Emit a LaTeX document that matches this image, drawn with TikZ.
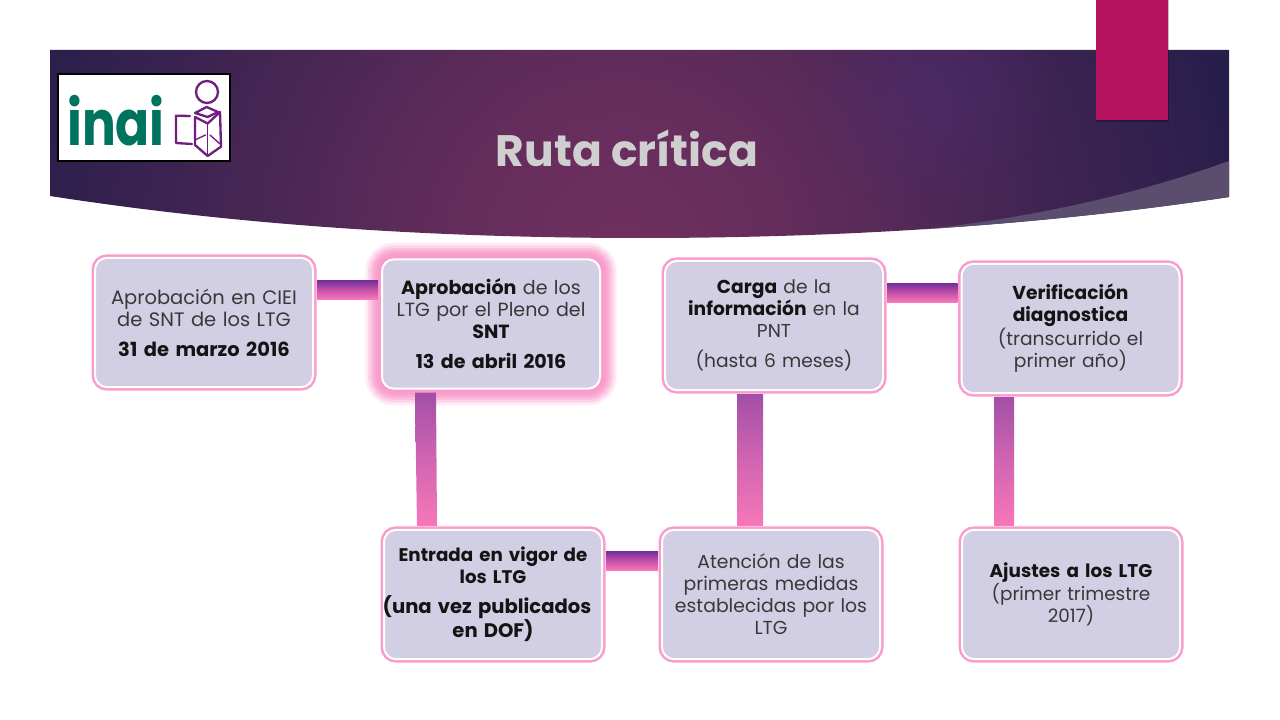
\documentclass[tikz,border=0pt]{standalone}
\usepackage{fontspec}
\setmainfont{Poppins}
\usetikzlibrary{calc,fadings}
\definecolor{boxlilac}{HTML}{D2CEE3}
\definecolor{boxpink}{HTML}{F99CCB}
\definecolor{barpurple}{HTML}{A34FA8}
\definecolor{barpink}{HTML}{F777B8}
\definecolor{bardark}{HTML}{6F2E9B}
\definecolor{barmid}{HTML}{C450A8}
\definecolor{headdark}{HTML}{241D4A}
\definecolor{headmid}{HTML}{70305F}
\definecolor{headspot}{HTML}{4F2E78}
\definecolor{swooshgray}{HTML}{5A4D6E}
\definecolor{logogreen}{HTML}{00735F}
\definecolor{logopurple}{HTML}{6F1F7F}
\pgfdeclareradialshading{headshade}{\pgfpoint{0bp}{0bp}}{color(0bp)=(headmid); color(6bp)=(headmid!85!headdark); color(14bp)=(headmid!48!headdark); color(25bp)=(headdark); color(100bp)=(headdark)}
\tikzfading[name=softspot,inner color=transparent!0,outer color=transparent!100]
\newcommand{\boxfont}[1]{\fontsize{#1}{16.5}\selectfont}
\tikzset{
    stepbox/.style={rectangle,rounded corners=9pt,fill=boxlilac,draw=white,line width=1.5pt,
        minimum width=163.5pt,minimum height=97pt,inner sep=0pt,text width=160pt,align=center,
        font=\boxfont{14},text=black!78,
        preaction={draw=boxpink,line width=5.25pt}},
    glowbox/.style={stepbox,
        preaction={draw=boxpink,opacity=.2,line width=25pt},
        preaction={draw=boxpink,opacity=.3,line width=21pt},
        preaction={draw=boxpink,opacity=.4,line width=17pt},
        preaction={draw=boxpink,opacity=.6,line width=13pt},
        preaction={draw=boxpink,opacity=.8,line width=9pt}},
    vbar/.style={top color=barpurple,bottom color=barpink,middle color=barpurple!45!barpink},
    hbar/.style={top color=bardark,bottom color=barpink,middle color=barmid},
    logoline/.style={draw=logopurple,line width=1.75pt,line join=round,line cap=round}
}
\newcommand{\boldpart}[1]{{\bfseries\color{black!92}#1}}
\begin{document}
\begin{tikzpicture}[x=0.75pt,y=-0.75pt]
    \useasboundingbox (0,0) rectangle (1280,720);

    % Header band
    \begin{scope}
        \clip (50,50) -- (1229,50) -- (1229,197) .. controls (1030,227) and (830,238) .. (640,238)
            .. controls (450,238) and (250,227) .. (50,196) -- cycle;
        \shade[shading=headshade] (620,250) circle (650);
        \fill[color=headspot,opacity=.45,path fading=softspot] (935,90) circle (130);
        \fill[color=swooshgray] (1229,161) .. controls (1120,200) and (1010,222) .. (880,234)
            -- (880,250) -- (1229,250) -- cycle;
    \end{scope}

    % Bookmark
    \fill[black,opacity=.25] (1096,0) rectangle (1169,122);
    \fill[color={rgb,255:red,181;green,19;blue,95}] (1096,0) rectangle (1168,120);

    % Logo
    \node[draw=black,line width=1.5pt,fill=white,minimum width=129pt,minimum height=65pt,inner sep=0pt] (logoBox) at (144,117.5) {};
    \node[text=logogreen,font=\fontsize{47}{47}\selectfont\bfseries,inner sep=0pt,anchor=base] (logoText) at (116,146) {\scalebox{.8}[1]{inai}};
    \draw[logoline] (207,92) circle (11);
    \draw[logoline] (190,116) -- (176,115.7) -- (176,143) -- (192,144);
    \draw[logoline] (195,113) -- (206.7,107) -- (218,112) -- (207.7,117) -- cycle;
    \draw[logoline] (195,117) -- (207.7,123.5) -- (220,112) -- (221,146.7) -- (207.7,156) -- (195,145) -- cycle;
    \draw[logoline,line width=1pt] (207.7,123.5) -- (207.7,156);
    \draw[logoline,line width=1pt] (195,140) -- (205.5,135);
    \draw[logoline,line width=1pt] (210,135) -- (220,144);

    % Title
    \node[text={rgb,255:red,207;green,207;blue,207},font=\fontsize{33}{40}\selectfont\bfseries,inner sep=0pt] (titleText) at (627,148) {Ruta crítica};

    % Boxes
    \node[stepbox,font=\boxfont{14.6}] (cieiBox) at (204,322.5) {Aprobación en CIEI\\de SNT de los LTG\\[6pt]\boldpart{31 de marzo 2016}};
    \node[glowbox,font=\boxfont{14.3}] (plenoBox) at (491,324) {\boldpart{Aprobación} de los\\LTG por el Pleno del\\\boldpart{SNT}\\[6pt]\boldpart{13 de abril 2016}};
    \node[stepbox] (cargaBox) at (774,325.5) {\boldpart{Carga} de la\\\boldpart{información} en la\\PNT\\[6pt](hasta 6 meses)};
    \node[stepbox] (verifBox) at (1070.5,328.5) {\boldpart{Verificación}\\\boldpart{diagnostica}\\(transcurrido el\\primer año)};
    \node[stepbox,font=\boxfont{13.7}] (vigorBox) at (493,594.5) {\boldpart{Entrada en vigor de}\\\boldpart{los LTG}\\[6pt]{\boxfont{14.7}\makebox[0pt]{\boldpart{(una vez publicados}\hspace*{9pt}}\\\boldpart{en DOF)}}};
    \node[stepbox,font=\boxfont{14.1}] (atencionBox) at (771,594.5) {Atención de las\\primeras medidas\\establecidas por los\\LTG};
    \node[stepbox,font=\boxfont{13.8}] (ajustesBox) at (1071,594.5) {\boldpart{Ajustes a los LTG}\\(primer trimestre\\2017)};

    % Connectors
    \shade[hbar] ($(cieiBox.east)+(3,-42.5)$) rectangle ($(plenoBox.west)+(-3,-25)$);
    \shade[hbar] ($(vigorBox.east)+(3,-43.5)$) rectangle ($(atencionBox.west)+(-3,-24.5)$);
    \shade[hbar] ($(cargaBox.east)+(3,-42.5)$) -- ($(verifBox.west)+(-3,-45.5)$) -- ($(verifBox.west)+(-3,-26.5)$) -- ($(cargaBox.east)+(3,-23.5)$) -- cycle;
    \shade[vbar] ($(plenoBox.south)+(-76,3)$) -- ($(plenoBox.south)+(-55,3)$) -- ($(vigorBox.north)+(-56,-3)$) -- ($(vigorBox.north)+(-76,-3)$) -- cycle;
    \shade[vbar] ($(cargaBox.south)+(-37,3)$) -- ($(cargaBox.south)+(-11,3)$) -- ($(atencionBox.north)+(-8,-3)$) -- ($(atencionBox.north)+(-34,-3)$) -- cycle;
    \shade[vbar] ($(verifBox.south)+(-76.5,3)$) -- ($(verifBox.south)+(-56.5,3)$) -- ($(ajustesBox.north)+(-57,-3)$) -- ($(ajustesBox.north)+(-77,-3)$) -- cycle;
\end{tikzpicture}
\end{document}
